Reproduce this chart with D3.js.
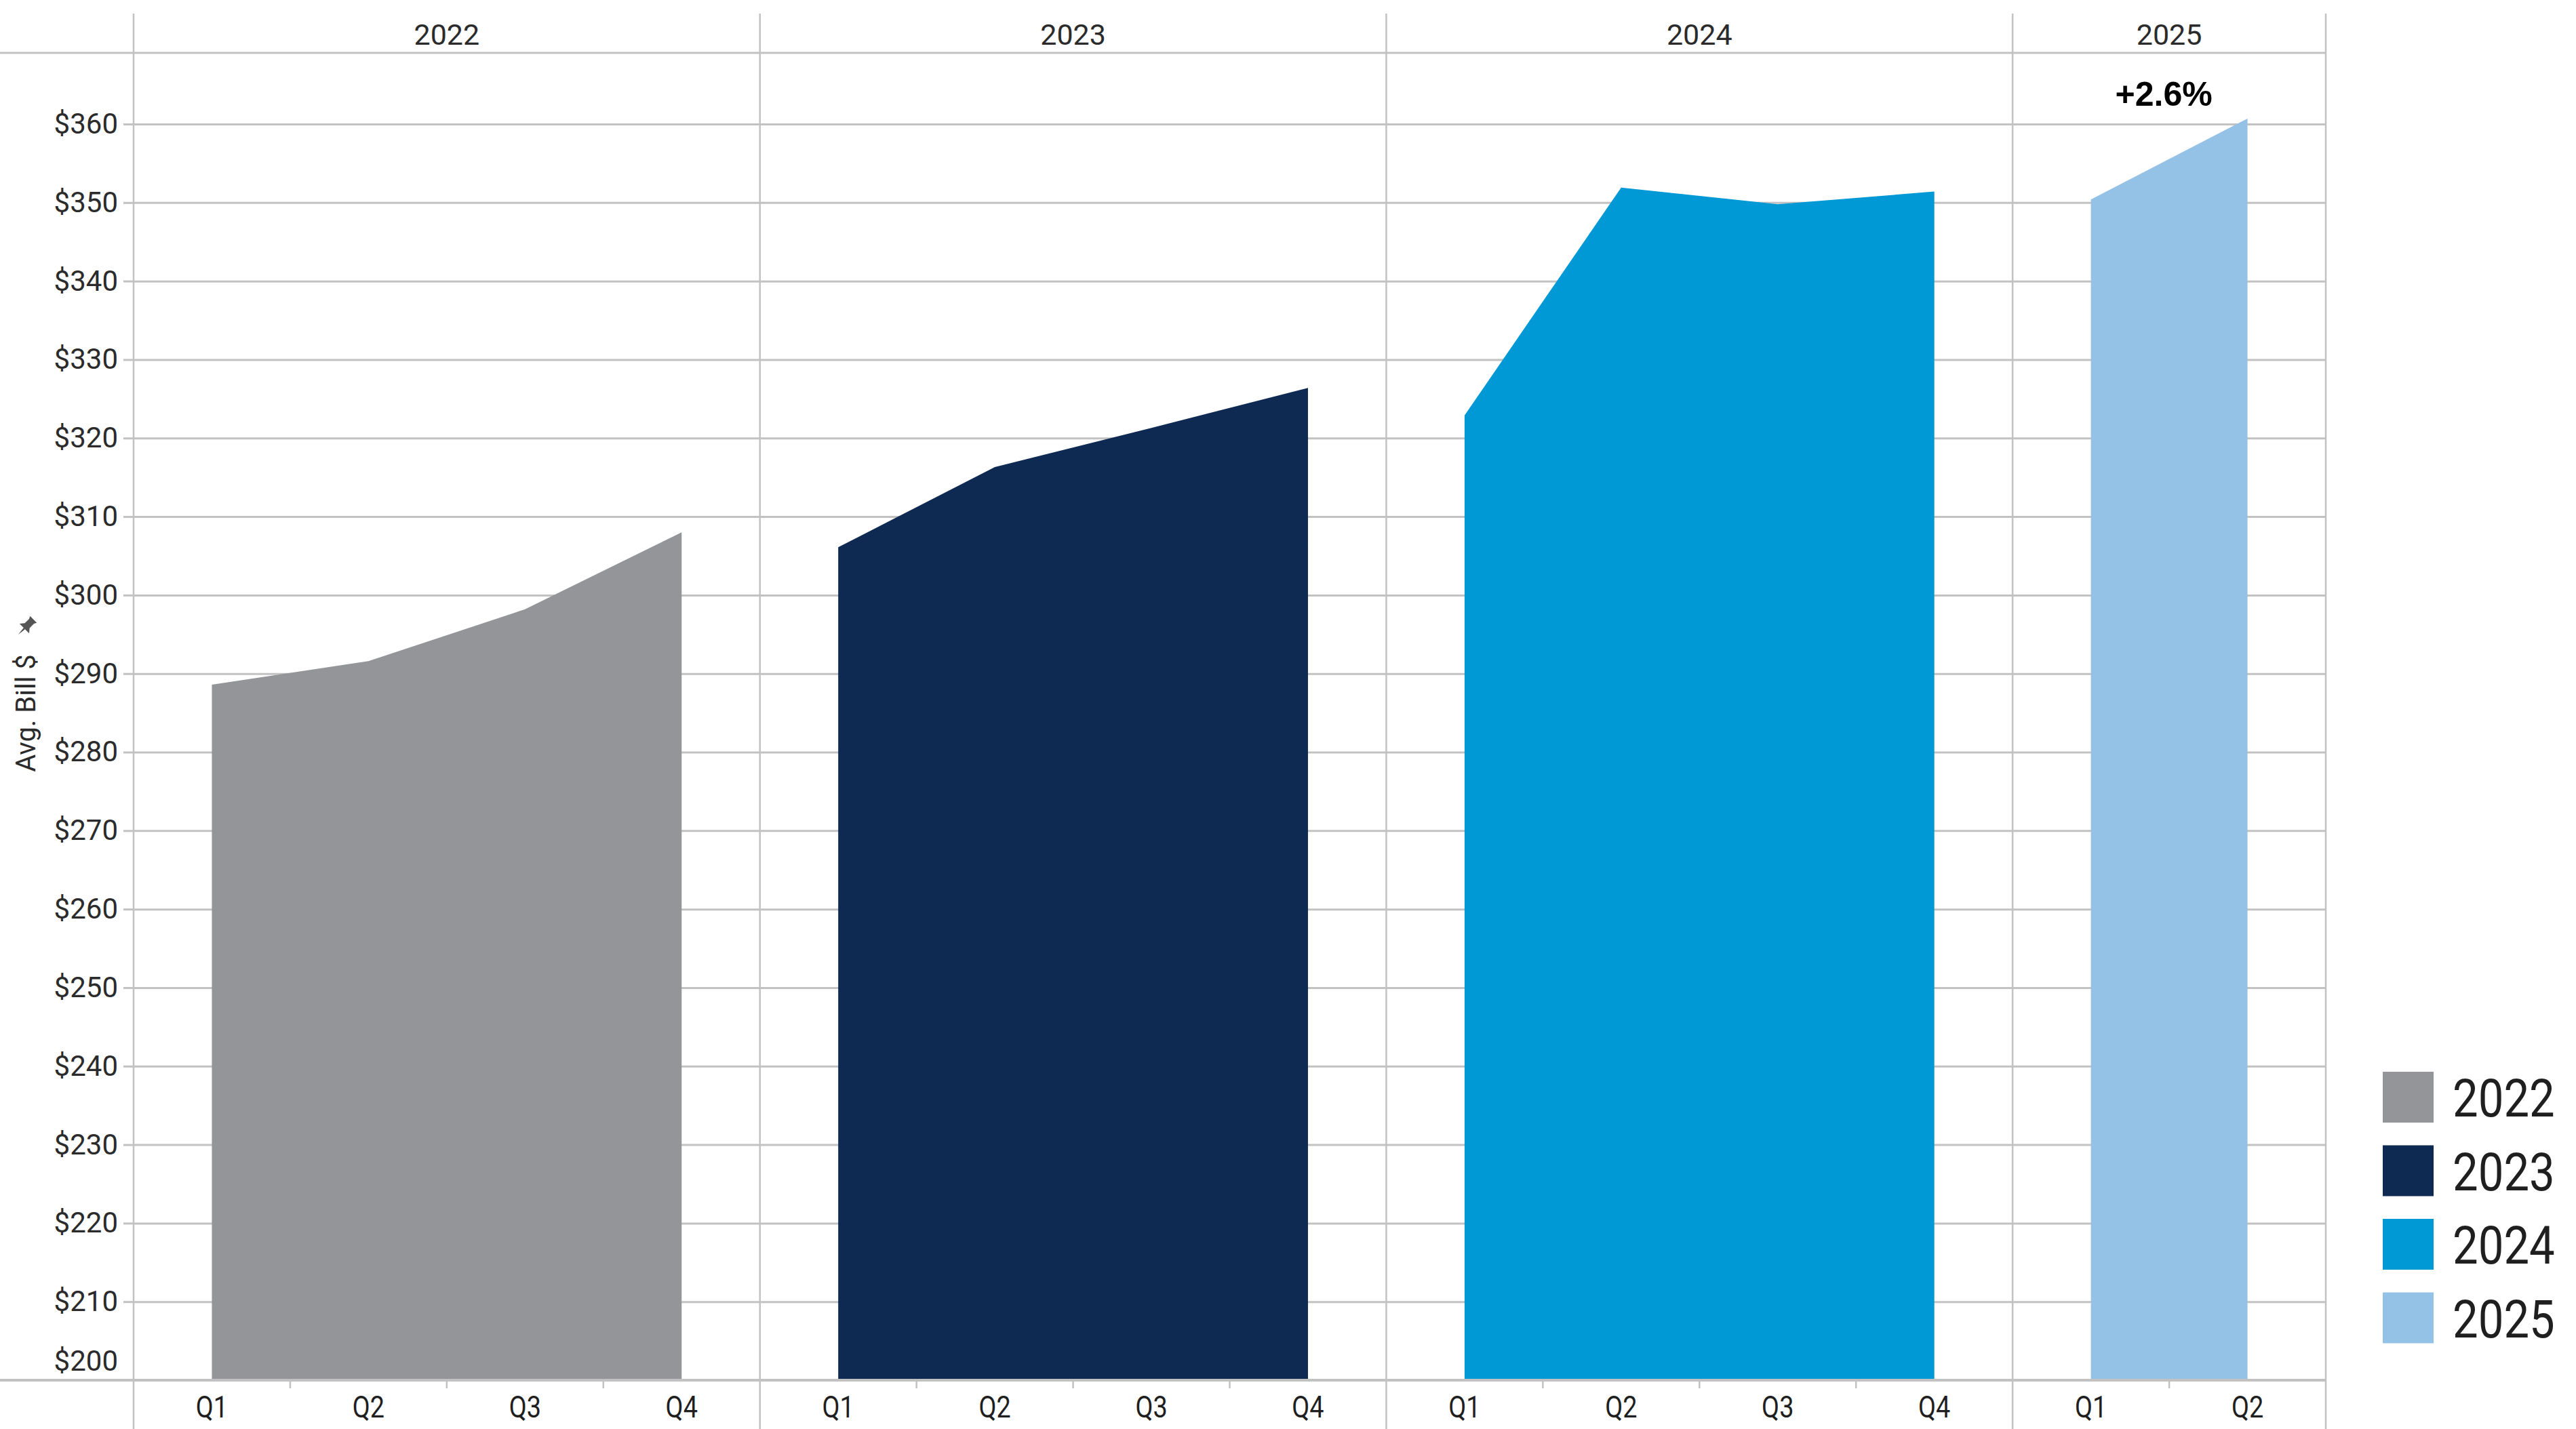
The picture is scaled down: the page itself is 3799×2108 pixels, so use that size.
<html>
<head>
<meta charset="utf-8">
<script src="https://cdn.jsdelivr.net/npm/d3@7/dist/d3.min.js"></script>
<style>
  body { margin: 0; background: #fff; }
  svg { display: block; }
  .tick-label { font-family: Roboto, "Noto Sans", sans-serif; fill: #2b2b2b; }
  .narrow { font-family: "Liberation Sans Narrow", "Arial Narrow", Roboto, sans-serif; fill: #1f1f1f; }
</style>
</head>
<body onload="init()">
<svg id="chart" width="3799" height="2108"></svg>
<script>
// data
var years = ["2022", "2023", "2024", "2025"];
var quarters = ["Q1", "Q2", "Q3", "Q4"];
var bill2022 = [288.6, 291.6, 298.2, 308.0];
var bill2023 = [306.1, 316.3, 321.3, 326.4];
var bill2024 = [322.9, 351.9, 349.8, 351.4];
var bill2025 = [350.4, 360.7];
var yTickValues = [200, 210, 220, 230, 240, 250, 260, 270, 280, 290, 300, 310, 320, 330, 340, 350, 360];
var yTitle = "Avg. Bill $";
var changeLabel = "+2.6%";
var yearColors = ["#939598", "#0f2a52", "#0099d6", "#94c1e6"];

function init() {
  var svg = d3.select("#chart");

  var left = 197, right = 3430;
  var headTop = 20, headLine = 78, bottom = 2036, frameBottom = 2108;
  var gridColor = "#c2c2c2";
  var squeeze = 0.86; // no narrow font installed, so compress Roboto a little

  var series = [bill2022, bill2023, bill2024, bill2025];
  var rows = [];
  years.forEach(function(yr, i) {
    series[i].forEach(function(v, j) {
      rows.push({ year: yr, q: quarters[j], key: yr + "-" + quarters[j], value: v });
    });
  });

  var x = d3.scaleBand()
    .domain(rows.map(function(d) { return d.key; }))
    .range([left, right])
    .padding(0);

  var y = d3.scaleLinear().domain([200, 360]).range([bottom, 183]);

  // horizontal grid
  var grid = svg.append("g")
    .attr("transform", "translate(" + left + ",0)")
    .call(d3.axisLeft(y).tickValues(yTickValues).tickSize(-(right - left)).tickFormat(""));
  grid.select(".domain").remove();
  grid.selectAll("line").attr("stroke", gridColor).attr("stroke-width", 3);

  // y axis ticks and labels
  var yAxis = svg.append("g")
    .attr("transform", "translate(" + left + ",0)")
    .call(d3.axisLeft(y).tickValues(yTickValues).tickSize(15).tickPadding(8)
      .tickFormat(function(d) { return "$" + d; }));
  yAxis.select(".domain").remove();
  yAxis.selectAll("line").attr("stroke", gridColor).attr("stroke-width", 3);
  yAxis.selectAll("text")
    .attr("class", "tick-label")
    .style("font-size", "42px")
    .attr("fill", "#2b2b2b");
  yAxis.selectAll(".tick").filter(function(d) { return d === 200; })
    .select("text").attr("dy", "-0.35em");

  // areas, one per year
  var area = d3.area()
    .x(function(d) { return x(d.key) + x.bandwidth() / 2; })
    .y0(y(200))
    .y1(function(d) { return y(d.value); });

  years.forEach(function(yr, i) {
    svg.append("path")
      .datum(rows.filter(function(d) { return d.year === yr; }))
      .attr("fill", yearColors[i])
      .attr("d", area);
  });

  // frame lines
  svg.append("line").attr("x1", 0).attr("x2", right).attr("y1", headLine).attr("y2", headLine)
    .attr("stroke", gridColor).attr("stroke-width", 3);
  svg.append("line").attr("x1", 0).attr("x2", right).attr("y1", bottom).attr("y2", bottom)
    .attr("stroke", gridColor).attr("stroke-width", 4);

  var panelEdges = years.map(function(yr) {
    var keys = rows.filter(function(d) { return d.year === yr; }).map(function(d) { return d.key; });
    return { year: yr, x0: x(keys[0]), x1: x(keys[keys.length - 1]) + x.bandwidth() };
  });

  var vlines = panelEdges.map(function(p) { return p.x0; }).concat([right]);
  svg.selectAll(".vline").data(vlines).enter().append("line")
    .attr("x1", function(d) { return d; }).attr("x2", function(d) { return d; })
    .attr("y1", headTop).attr("y2", frameBottom)
    .attr("stroke", gridColor).attr("stroke-width", 2.5);

  // year headers
  svg.selectAll(".yearHead").data(panelEdges).enter().append("text")
    .attr("class", "tick-label")
    .attr("x", function(d) { return (d.x0 + d.x1) / 2; })
    .attr("y", 66)
    .attr("text-anchor", "middle")
    .style("font-size", "43px")
    .text(function(d) { return d.year; });

  // quarter ticks between bands
  var inner = rows.filter(function(d) { return d.q !== "Q1"; });
  svg.selectAll(".qtick").data(inner).enter().append("line")
    .attr("x1", function(d) { return x(d.key); }).attr("x2", function(d) { return x(d.key); })
    .attr("y1", bottom).attr("y2", bottom + 12)
    .attr("stroke", gridColor).attr("stroke-width", 2.5);

  // quarter labels
  svg.selectAll(".qlab").data(rows).enter().append("text")
    .attr("class", "narrow")
    .attr("transform", function(d) {
      return "translate(" + (x(d.key) + x.bandwidth() / 2) + ",2091) scale(" + squeeze + ",1)";
    })
    .attr("text-anchor", "middle")
    .style("font-size", "44px")
    .text(function(d) { return d.q; });

  // change annotation over 2025
  var last = panelEdges[3];
  svg.append("text")
    .attr("x", (last.x0 + last.x1) / 2 - 8)
    .attr("y", 156)
    .attr("text-anchor", "middle")
    .style("font-family", "'Liberation Sans', Arial, sans-serif")
    .style("font-weight", "bold")
    .style("font-size", "50px")
    .attr("fill", "#000")
    .text(changeLabel);

  // y title with pin
  svg.append("text")
    .attr("class", "tick-label")
    .attr("transform", "translate(52,1052) rotate(-90)")
    .attr("text-anchor", "middle")
    .style("font-size", "40px")
    .attr("fill", "#333")
    .text(yTitle);
  svg.append("path")
    .attr("transform", "translate(38,925) rotate(45)")
    .attr("d", "M-7,-16 L7,-16 L5,-12 L5,-3 L10,3 L-10,3 L-5,-3 L-5,-12 Z M-1.5,3 L1.5,3 L0,16 Z")
    .attr("fill", "#555");

  // legend
  var legend = svg.append("g").attr("transform", "translate(3514,1581)");
  var item = legend.selectAll(".item").data(years).enter().append("g")
    .attr("transform", function(d, i) { return "translate(0," + (i * 108.5) + ")"; });
  item.append("rect")
    .attr("width", 75).attr("height", 75)
    .attr("fill", function(d, i) { return yearColors[i]; });
  item.append("text")
    .attr("class", "narrow")
    .attr("transform", "translate(103,38) scale(" + squeeze + ",1)")
    .attr("dy", "0.36em")
    .style("font-size", "78px")
    .text(function(d) { return d; });
}
</script>
</body>
</html>
